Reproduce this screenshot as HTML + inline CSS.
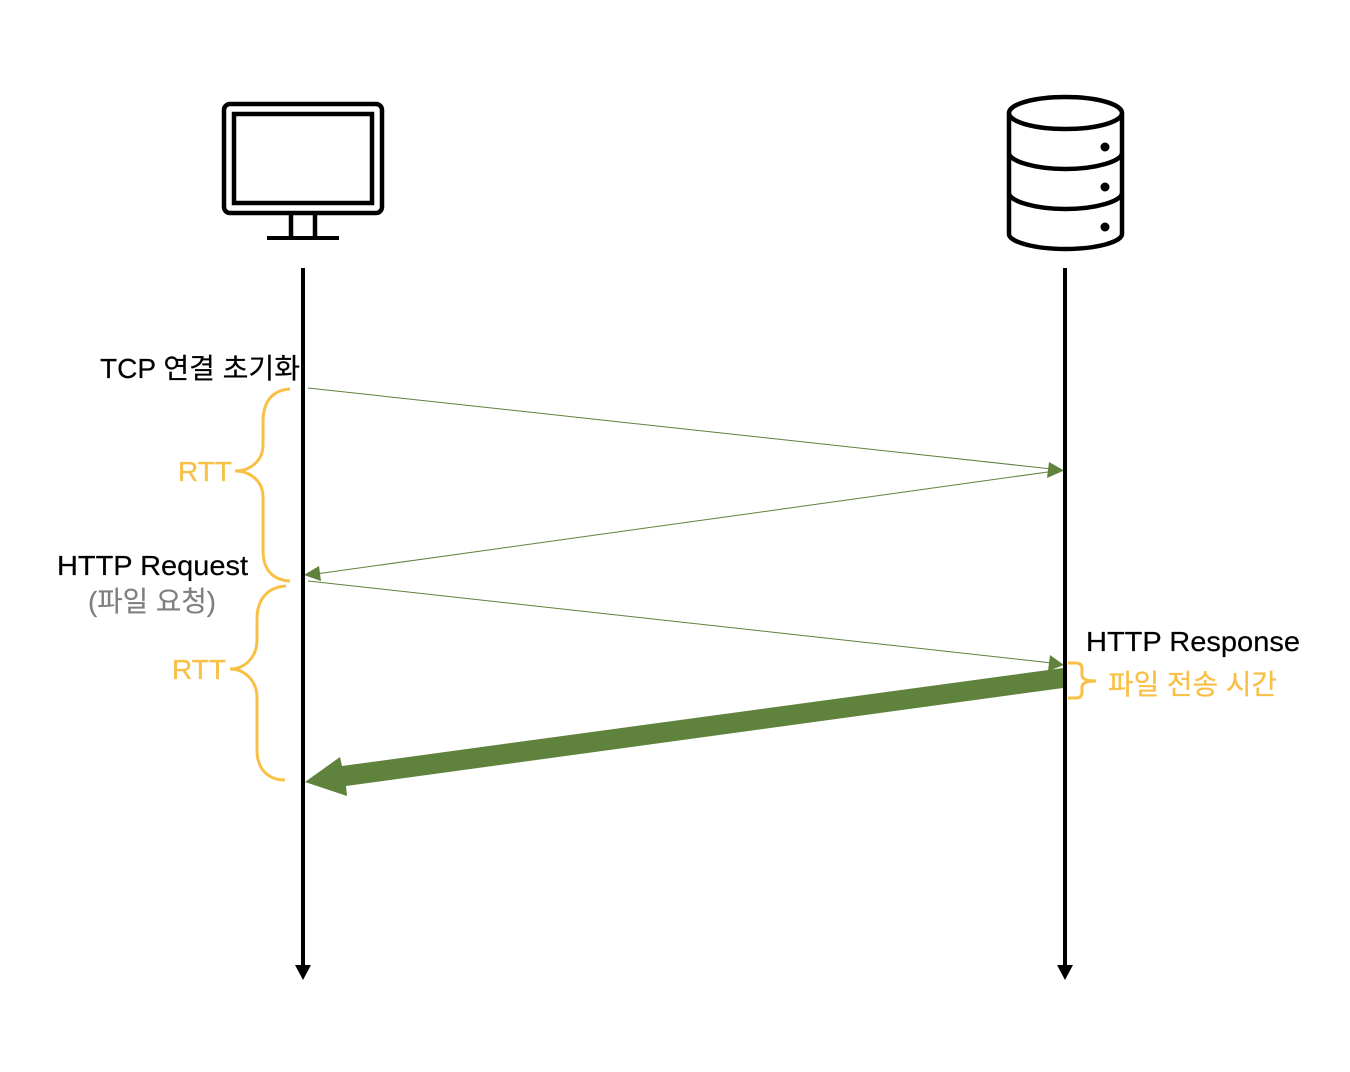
<!DOCTYPE html>
<html>
<head>
<meta charset="utf-8">
<style>
html,body{margin:0;padding:0;background:#fff;}
svg{display:block;}
text{font-family:"Liberation Sans","Noto Sans CJK KR",sans-serif;font-size:28px;}
</style>
</head>
<body>
<svg width="1350" height="1072" viewBox="0 0 1350 1072" xmlns="http://www.w3.org/2000/svg">
<rect width="1350" height="1072" fill="#fff"/>

<!-- Monitor -->
<g fill="none" stroke="#000" stroke-width="4.500">
<rect x="224" y="104" width="158" height="109" rx="6"/>
<rect x="234" y="114" width="138" height="89"/>
<path d="M291 213V238M315 213V238"/>
<path d="M267 238H339" stroke-width="4"/>
</g>

<!-- Database -->
<g fill="none" stroke="#000" stroke-width="4.500">
<ellipse cx="1065.500" cy="113" rx="56.500" ry="16"/>
<path d="M1009 113V234C1009 242 1035 249 1065.500 249C1096 249 1122 242 1122 234V113"/>
<path d="M1009 153C1009 161 1035 169 1065.500 169C1096 169 1122 161 1122 153"/>
<path d="M1009 193C1009 201 1035 209 1065.500 209C1096 209 1122 201 1122 193"/>
</g>
<circle cx="1105" cy="147" r="4.500" fill="#000"/>
<circle cx="1105" cy="187" r="4.500" fill="#000"/>
<circle cx="1105" cy="227" r="4.500" fill="#000"/>

<!-- Thin arrows -->
<g stroke="#5f823c" stroke-width="1" fill="none">
<path d="M308 388L1052 469"/>
<path d="M1055 471L316 574"/>
<path d="M308 581L1052 663"/>
</g>
<g fill="#5f823c">
<polygon points="1064,470.500 1049,462 1047,478"/>
<polygon points="304,575 319,566 321,581"/>
<polygon points="1064,665 1050,655 1048,671"/>
<!-- Thick arrow -->
<polygon points="1063,668 342,766 340,757 305,782 347,796 346,786 1063,688"/>
</g>

<!-- Lifelines -->
<rect x="301" y="268" width="4" height="698" fill="#000"/>
<polygon points="295,965 311,965 303,980" fill="#000"/>
<rect x="1063" y="268" width="4" height="698" fill="#000"/>
<polygon points="1057,965 1073,965 1065,980" fill="#000"/>

<!-- Braces -->
<g fill="none" stroke="#f8c045" stroke-width="3" stroke-linecap="butt">
<path d="M290 389C272 390 263 402 263 422V445C263 461 250 471 235 471C250 471 263 481 263 497V550C263 569 272 580 290 581"/>
<path d="M286 586C268 587 257 599 257 619V640C257 658 244 669 230 669C244 669 257 680 257 698V750C257 769 268 780 285 780"/>
<path d="M1068 663H1076Q1082 663 1082 669V675Q1082 681 1096 681Q1082 681 1082 687V692Q1082 698 1076 698H1068"/>
</g>

<!-- Labels -->
<text x="100" y="378" textLength="200" lengthAdjust="spacingAndGlyphs" fill="#000" stroke="#000" stroke-width="0.200">TCP 연결 초기화</text>
<text x="57" y="575" textLength="191" lengthAdjust="spacingAndGlyphs" fill="#000" stroke="#000" stroke-width="0.200">HTTP Request</text>
<text x="88" y="611" textLength="128" lengthAdjust="spacingAndGlyphs" fill="#7f7f7f" stroke="#7f7f7f" stroke-width="0.200">(파일 요청)</text>
<text x="178" y="481" textLength="54" lengthAdjust="spacingAndGlyphs" fill="#f8c045" stroke="#f8c045" stroke-width="0.300">RTT</text>
<text x="172" y="679" textLength="54" lengthAdjust="spacingAndGlyphs" fill="#f8c045" stroke="#f8c045" stroke-width="0.300">RTT</text>
<text x="1086" y="651" textLength="214" lengthAdjust="spacingAndGlyphs" fill="#000" stroke="#000" stroke-width="0.200">HTTP Response</text>
<text x="1108" y="694" textLength="169" lengthAdjust="spacingAndGlyphs" fill="#f8c045" stroke="#f8c045" stroke-width="0.300">파일 전송 시간</text>
</svg>
</body>
</html>
